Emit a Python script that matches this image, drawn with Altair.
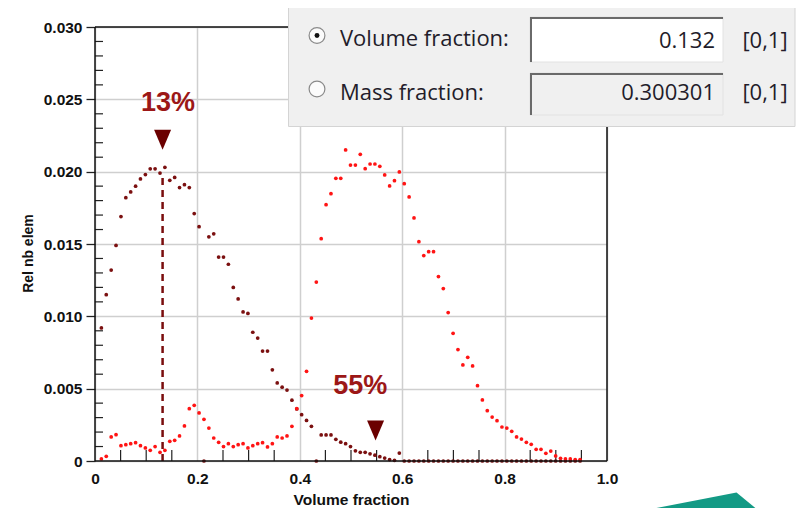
import altair as alt
import pandas as pd

# ---------------- data ----------------
x_bins = [0.0125, 0.0220, 0.0316, 0.0411, 0.0507, 0.0602, 0.0697, 0.0793, 0.0888, 0.0984,
          0.1079, 0.1174, 0.1270, 0.1365, 0.1461, 0.1556, 0.1651, 0.1747, 0.1842, 0.1938,
          0.2033, 0.2128, 0.2224, 0.2319, 0.2415, 0.2510, 0.2605, 0.2701, 0.2796, 0.2892,
          0.2987, 0.3082, 0.3178, 0.3273, 0.3369, 0.3464, 0.3559, 0.3655, 0.3750, 0.3846,
          0.3941, 0.4036, 0.4132, 0.4227, 0.4323, 0.4418, 0.4513, 0.4609, 0.4704, 0.4800,
          0.4895, 0.4990, 0.5086, 0.5181, 0.5277, 0.5372, 0.5467, 0.5563, 0.5658, 0.5754,
          0.5849, 0.5944, 0.6040, 0.6135, 0.6231, 0.6326, 0.6421, 0.6517, 0.6612, 0.6708,
          0.6803, 0.6898, 0.6994, 0.7089, 0.7185, 0.7280, 0.7375, 0.7471, 0.7566, 0.7662,
          0.7757, 0.7852, 0.7948, 0.8043, 0.8139, 0.8234, 0.8329, 0.8425, 0.8520, 0.8616,
          0.8711, 0.8806, 0.8902, 0.8997, 0.9093, 0.9188, 0.9283, 0.9379, 0.9474]

dark_vals = [0.0092, 0.0115, 0.0132, 0.0149, 0.0169, 0.0182, 0.0186, 0.0190, 0.0195, 0.0198,
             0.0202, 0.0202, 0.0199, 0.0203, 0.0194, 0.0196, 0.0189, 0.0191, 0.0189, 0.0171,
             0.0162, 0.0, 0.0155, 0.0157, 0.0141, 0.0141, 0.0136, 0.0120, 0.0112, 0.0103,
             0.0102, 0.0089, 0.0085, 0.0076, 0.0076, 0.0063, 0.0054, 0.0051, 0.0049, 0.0042,
             0.0036, 0.0032, 0.0028, 0.0024, 0.0, 0.0018, 0.0018, 0.0018, 0.0015, 0.0013,
             0.0012, 0.0010, 0.0007, 0.0006, 0.0006, 0.0005, 0.0004, 0.0003, 0.0002, 0.0001,
             0.00005, 0.00055, 0, 0, 0, 0, 0, 0, 0, 0,
             0, 0, 0, 0, 0, 0, 0, 0, 0, 0,
             0, 0, 0, 0, 0, 0, 0, 0, 0, 0,
             0, 0, 0, 0, 0, 0, 0, 0, 0]

red_vals = [0.00014, 0.00032, 0.00166, 0.00182, 0.00106, 0.00113, 0.0012, 0.00127, 0.00106, 0.0009,
            0.00074, 0.001, 0.0006, 0.00074, 0.00136, 0.00143, 0.00173, 0.00242, 0.00362, 0.00385,
            0.00332, 0.00288, 0.00228, 0.00159, 0.00129, 0.001, 0.0012, 0.001, 0.00113, 0.0012,
            0.0009, 0.00106, 0.0012, 0.00127, 0.00097, 0.0012, 0.00166, 0.00159, 0.00173, 0.0024,
            0.00362, 0.00452, 0.0062, 0.00988, 0.01237, 0.01537, 0.01772, 0.01848, 0.01954, 0.01954,
            0.0215, 0.02046, 0.02046, 0.0212, 0.02021, 0.02053, 0.02053, 0.02037, 0.01977, 0.01901,
            0.01938, 0.01998, 0.01917, 0.01825, 0.0168, 0.01516, 0.0142, 0.01447, 0.01447, 0.01275,
            0.01192, 0.01026, 0.00883, 0.0077, 0.00664, 0.00717, 0.00657, 0.00521, 0.00422, 0.00348,
            0.00304, 0.00279, 0.00235, 0.00228, 0.00205, 0.00166, 0.00152, 0.00129, 0.00115, 0.00081,
            0.00081, 0.00053, 0.00069, 0.00035, 0.00019, 0.00014, 0.00014, 0.0001, 0.0001]

series_names = ["dark", "red"]
series_colors = ["#7b1010", "#ff1414"]

x_major = [0, 0.2, 0.4, 0.6, 0.8, 1.0]
y_major = [0, 0.005, 0.010, 0.015, 0.020, 0.025, 0.030]
x_minor = [0.05, 0.1, 0.15, 0.25, 0.3, 0.35, 0.45, 0.5, 0.55, 0.65, 0.7, 0.75, 0.85, 0.9, 0.95]
y_minor = [0.001, 0.002, 0.003, 0.004, 0.006, 0.007, 0.008, 0.009, 0.011, 0.012, 0.013, 0.014,
           0.016, 0.017, 0.018, 0.019, 0.021, 0.022, 0.023, 0.024, 0.026, 0.027, 0.028, 0.029]

marker_x = 0.132
marker_top = 0.0199
tri_x = [0.132, 0.548]
tri_y = [0.0222, 0.0021]
ann_text = ["13%", "55%"]
ann_x = [0.1425, 0.518]
ann_y = [0.0242, 0.00466]

panel_labels = ["Volume fraction:", "Mass fraction:"]
panel_values = ["0.132", "0.300301"]
panel_range = "[0,1]"

# ---------------- tables ----------------
pts = pd.DataFrame({
    "x": x_bins * 2,
    "y": dark_vals + red_vals,
    "series": [series_names[0]] * len(x_bins) + [series_names[1]] * len(x_bins),
})
xmin_df = pd.DataFrame({"v": x_minor})
ymin_df = pd.DataFrame({"v": y_minor})
tri_df = pd.DataFrame({"x": tri_x, "y": tri_y})
ann_df = pd.DataFrame({"x": ann_x, "y": ann_y, "t": ann_text})
mark_df = pd.DataFrame({"x": [marker_x], "y": [0.0], "y2": [marker_top]})
one = pd.DataFrame({"a": [0]})

FONT = "Liberation Sans"
xs = alt.Scale(domain=[0, 1], nice=False, zero=False)
ys = alt.Scale(domain=[0, 0.03], nice=False, zero=False)

xaxis = alt.Axis(values=x_major, labelExpr="datum.value == 0 ? '0' : format(datum.value, '.1f')",
                 title="Volume fraction", ticks=False, domain=False, grid=True, labelFlush=False,
                 gridColor="#cfcfcf", gridWidth=1.5, labelPadding=10,
                 labelFont=FONT, labelFontSize=15.5, labelFontWeight="bold", labelColor="#111",
                 titleFont=FONT, titleFontSize=15.5, titleFontWeight="bold", titleColor="#111",
                 titleBaseline="alphabetic", titleY=43)
yaxis = alt.Axis(values=y_major, labelExpr="datum.value == 0 ? '0' : format(datum.value, '.3f')",
                 title="Rel nb elem", ticks=True, tickSize=9, tickColor="#222", tickWidth=1.3,
                 domain=False, grid=True, gridColor="#cfcfcf", gridWidth=1.5, labelPadding=4,
                 labelFlush=False,
                 labelFont=FONT, labelFontSize=15.5, labelFontWeight="bold", labelColor="#111",
                 titleFont=FONT, titleFontSize=14, titleFontWeight="bold", titleColor="#111",
                 titleBaseline="alphabetic", titleX=-63, titleY=226)

dots = alt.Chart(pts).mark_circle(size=14, opacity=1).encode(
    x=alt.X("x:Q", scale=xs, axis=xaxis),
    y=alt.Y("y:Q", scale=ys, axis=yaxis),
    color=alt.Color("series:N", scale=alt.Scale(domain=series_names, range=series_colors), legend=None),
)

ytick = alt.Chart(ymin_df).mark_rule(color="#222", strokeWidth=1.2).encode(
    y=alt.Y("v:Q", scale=ys), x=alt.value(0), x2=alt.value(8))
xtick = alt.Chart(xmin_df).mark_rule(color="#222", strokeWidth=1.2).encode(
    x=alt.X("v:Q", scale=xs), y=alt.value(434), y2=alt.value(423))

def rule(x1, y1, x2, y2, color="#111", w=1.5):
    return alt.Chart(one).mark_rule(color=color, strokeWidth=w).encode(
        x=alt.value(x1), x2=alt.value(x2), y=alt.value(y1), y2=alt.value(y2))

borders = [rule(0, 0, 512, 0), rule(512, 0, 512, 434), rule(0, 0, 0, 434), rule(0, 434, 512, 434)]

dashed = alt.Chart(mark_df).mark_rule(color="#7a0d0d", strokeWidth=2.5, strokeDash=[7, 5]).encode(
    x=alt.X("x:Q", scale=xs), y=alt.Y("y:Q", scale=ys), y2="y2:Q")

tri = alt.Chart(tri_df).mark_point(shape="M-0.85,-1L0.85,-1L0,1Z", filled=True, size=400,
                                   color="#6b0000", opacity=1).encode(
    x=alt.X("x:Q", scale=xs), y=alt.Y("y:Q", scale=ys))

ann = alt.Chart(ann_df).mark_text(font=FONT, fontSize=27, fontWeight="bold", color="#9c1717",
                                  baseline="alphabetic", align="center").encode(
    x=alt.X("x:Q", scale=xs), y=alt.Y("y:Q", scale=ys), text="t:N")

# ---------------- dialog panel ----------------
def rect(x1, y1, x2, y2, fill, stroke=None, w=1):
    kw = dict(fill=fill, strokeWidth=w)
    if stroke:
        kw["stroke"] = stroke
    return alt.Chart(one).mark_rect(**kw).encode(
        x=alt.value(x1), x2=alt.value(x2), y=alt.value(y1), y2=alt.value(y2))

def txt(s, x, y, align="left", size=22, color="#231c2a"):
    return alt.Chart(one).mark_text(text=s, font="Open Sans", fontSize=size, color=color,
                                    align=align, baseline="alphabetic").encode(
        x=alt.value(x), y=alt.value(y))

def dot(x, y, size, fill, stroke=None):
    kw = dict(shape="circle", filled=True, size=size, color=fill, opacity=1)
    if stroke:
        kw.update(stroke=stroke, strokeWidth=1.2)
    return alt.Chart(one).mark_point(**kw).encode(x=alt.value(x), y=alt.value(y))

panel = [
    rect(193.5, -23, 700, 99.5, "#f0f0f0", "#d4d4d4", 1),
    rect(435, -10, 628, 35, "#ffffff", "#e2e2e2", 1),
    rule(435, -9, 628, -9, "#6a6a6a", 2), rule(436, -10, 436, 35, "#6a6a6a", 2),
    rect(435, 46, 628, 88, "#f0f0f0", "#e2e2e2", 1),
    rule(435, 47, 628, 47, "#6a6a6a", 2), rule(436, 46, 436, 88, "#6a6a6a", 2),
    dot(222, 8.5, 250, "#fbfbfb", "#8a8a8a"),
    dot(222, 8.5, 24, "#111111"),
    dot(222, 62, 250, "#fbfbfb", "#8a8a8a"),
    txt(panel_labels[0], 245, 18.5),
    txt(panel_labels[1], 245, 73),
    txt(panel_values[0], 620, 21, "right"),
    txt(panel_values[1], 620, 73, "right"),
    txt(panel_range, 670, 21, "center"),
    txt(panel_range, 670, 73, "center"),
]

# teal corner of a picture peeking in at the bottom right
teal = alt.Chart(one).mark_point(shape="M546,484L641.5,465.5L664,484Z", filled=True, size=4,
                                 color="#139a85", opacity=1).encode(
    x=alt.value(0), y=alt.value(0))

chart = alt.layer(
    ytick, xtick, dots, dashed, tri, ann, *borders, *panel, teal
).properties(
    width=512, height=434,
    padding={"left": 87, "top": 19, "right": 195, "bottom": 47},
    autosize=alt.AutoSizeParams(type="none"),
    background="white",
).configure_view(stroke=None)

chart.save("out.html", embed_options={"renderer": "svg", "actions": False})
